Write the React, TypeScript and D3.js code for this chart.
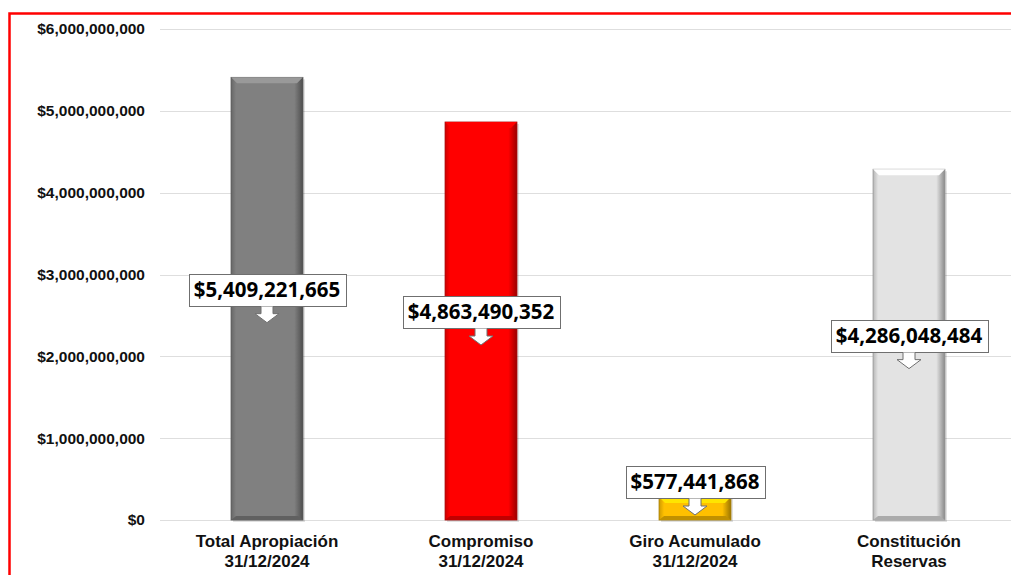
import React, { useEffect, useRef } from "react";
import * as d3 from "d3";

const width = 1011;
const height = 575;

// categories, two lines each
const categories = [
    ["Total Apropiación", "31/12/2024"],
    ["Compromiso", "31/12/2024"],
    ["Giro Acumulado", "31/12/2024"],
    ["Constitución", "Reservas"],
];

// bar heights as drawn in the picture
const barValues = [5409221665, 4863490352, 281000000, 4286048484];
// value printed in each callout
const labelValues = [5409221665, 4863490352, 577441868, 4286048484];

const barColors = ["#808080", "#ff0000", "#ffc000", "#e3e3e3"];

const yTicks = [0, 1e9, 2e9, 3e9, 4e9, 5e9, 6e9];

const margin = { top: 29, left: 160, bottom: 55 };

const money = (v: number) => "$" + d3.format(",")(v);

const App = () => {
    const ref = useRef<SVGSVGElement>(null);

    useEffect(() => {
        const svg = d3.select(ref.current);
        svg.selectAll("*").remove();

        const x = d3.scaleBand<number>()
            .domain(d3.range(categories.length))
            .range([margin.left, margin.left + 4 * 214])
            .paddingInner(0.664)
            .paddingOuter(0.332);

        const y = d3.scaleLinear()
            .domain([0, 6e9])
            .range([height - margin.bottom, margin.top]);

        const defs = svg.append("defs");
        barColors.forEach((c, i) => {
            const col = d3.color(c)!;
            const g = defs.append("linearGradient")
                .attr("id", "barGrad" + i)
                .attr("x1", 0).attr("x2", 1).attr("y1", 0).attr("y2", 0);
            g.append("stop").attr("offset", 0).attr("stop-color", col.darker(0.6).formatHex());
            g.append("stop").attr("offset", 0.07).attr("stop-color", c);
            g.append("stop").attr("offset", 0.88).attr("stop-color", c);
            g.append("stop").attr("offset", 1).attr("stop-color", col.darker(1.4).formatHex());
        });

        // red frame
        svg.append("rect")
            .attr("x", 9.5)
            .attr("y", 13.5)
            .attr("width", width + 20)
            .attr("height", height + 20)
            .attr("fill", "none")
            .attr("stroke", "#ff0000")
            .attr("stroke-width", 2.5);

        // grid
        svg.append("g")
            .selectAll("line")
            .data(yTicks)
            .join("line")
            .attr("x1", margin.left)
            .attr("x2", width)
            .attr("y1", d => Math.round(y(d)) + 0.5)
            .attr("y2", d => Math.round(y(d)) + 0.5)
            .attr("stroke", "#dedede")
            .attr("stroke-width", 1);

        // y axis
        const yAxis = svg.append("g")
            .attr("transform", `translate(${145},0)`)
            .call(d3.axisLeft(y).tickValues(yTicks).tickSize(0).tickPadding(0).tickFormat(d => money(+d)));
        yAxis.select(".domain").remove();
        yAxis.selectAll("text")
            .attr("font-family", "'Liberation Sans', Arial, sans-serif")
            .attr("font-weight", "bold")
            .attr("font-size", 15.5)
            .attr("fill", "#111");

        // bars
        const bars = svg.append("g")
            .selectAll("g")
            .data(barValues)
            .join("g");

        bars.append("rect")
            .attr("x", (_, i) => x(i)! + 2)
            .attr("y", d => y(d) + 2)
            .attr("width", x.bandwidth())
            .attr("height", d => y(0) - y(d))
            .attr("fill", "#000")
            .attr("opacity", 0.12);

        bars.append("rect")
            .attr("x", (_, i) => x(i)!)
            .attr("y", d => y(d))
            .attr("width", x.bandwidth())
            .attr("height", d => y(0) - y(d))
            .attr("fill", (_, i) => `url(#barGrad${i})`)
            .attr("stroke", (_, i) => d3.color(barColors[i])!.darker(1.2).formatHex())
            .attr("stroke-width", 0.8);

        // top bevel
        bars.append("path")
            .attr("d", (d, i) => {
                const x0 = x(i)!, x1 = x0 + x.bandwidth(), t = y(d);
                const b = Math.min(6, (y(0) - t) / 3);
                return `M${x0},${t}L${x1},${t}L${x1 - 6},${t + b}L${x0 + 6},${t + b}Z`;
            })
            .attr("fill", (_, i) => d3.color(barColors[i])!.brighter(0.5).formatHex());

        // bottom bevel
        bars.append("path")
            .attr("d", (d, i) => {
                const x0 = x(i)!, x1 = x0 + x.bandwidth(), b = y(0);
                return `M${x0},${b}L${x1},${b}L${x1 - 5},${b - 4}L${x0 + 5},${b - 4}Z`;
            })
            .attr("fill", (_, i) => d3.color(barColors[i])!.darker(0.8).formatHex());

        // callouts
        const labels = svg.append("g")
            .selectAll("g")
            .data(labelValues)
            .join("g");

        labels.each(function (v, i) {
            const g = d3.select(this);
            const cx = x(i)! + x.bandwidth() / 2;
            const tipY = Math.min(y(barValues[i] / 2) + 24, y(0) - 5);
            const boxH = 32;
            const boxBottom = tipY - 17;
            const boxTop = boxBottom - boxH;

            const box = g.append("rect");
            const text = g.append("text")
                .attr("x", cx)
                .attr("y", boxTop + boxH / 2)
                .attr("dy", "0.36em")
                .attr("text-anchor", "middle")
                .attr("font-family", "'Noto Sans', 'Open Sans', sans-serif")
                .attr("font-weight", "bold")
                .attr("font-size", 20.5)
                .attr("fill", "#000")
                .text(money(v));
            const tw = (text.node() as SVGTextElement).getComputedTextLength();
            box.attr("x", Math.round(cx - tw / 2 - 5) + 0.5)
                .attr("y", Math.round(boxTop) + 0.5)
                .attr("width", Math.round(tw + 10))
                .attr("height", boxH)
                .attr("fill", "#fff")
                .attr("stroke", "#6f6f6f")
                .attr("stroke-width", 1);

            const bb = Math.round(boxTop) + 0.5 + boxH;
            const sw = 6, hw = 12, headY = tipY - 9;
            const arrow = `M${cx - sw},${bb}L${cx - sw},${headY}L${cx - hw},${headY}L${cx},${tipY}L${cx + hw},${headY}L${cx + sw},${headY}L${cx + sw},${bb}`;
            g.append("path")
                .attr("d", arrow + "Z")
                .attr("fill", "#fff")
                .attr("stroke", "none");
            g.append("path")
                .attr("d", arrow)
                .attr("fill", "none")
                .attr("stroke", "#6f6f6f")
                .attr("stroke-width", 1);
        });

        // x labels
        const xl = svg.append("g")
            .selectAll("text")
            .data(categories)
            .join("text")
            .attr("x", (_, i) => x(i)! + x.bandwidth() / 2)
            .attr("y", y(0) + 27)
            .attr("text-anchor", "middle")
            .attr("font-family", "'Liberation Sans', Arial, sans-serif")
            .attr("font-weight", "bold")
            .attr("font-size", 17)
            .attr("fill", "#111");
        xl.selectAll("tspan")
            .data(d => d)
            .join("tspan")
            .attr("x", function () { return (this.parentNode as SVGTextElement).getAttribute("x"); })
            .attr("dy", (_, j) => j === 0 ? 0 : 20)
            .text(d => d);
    }, []);

    return (
        <svg ref={ref} width={width} height={height}
            style={{ position: "absolute", left: 0, top: 0, background: "#fff" }} />
    );
};

export default App;
